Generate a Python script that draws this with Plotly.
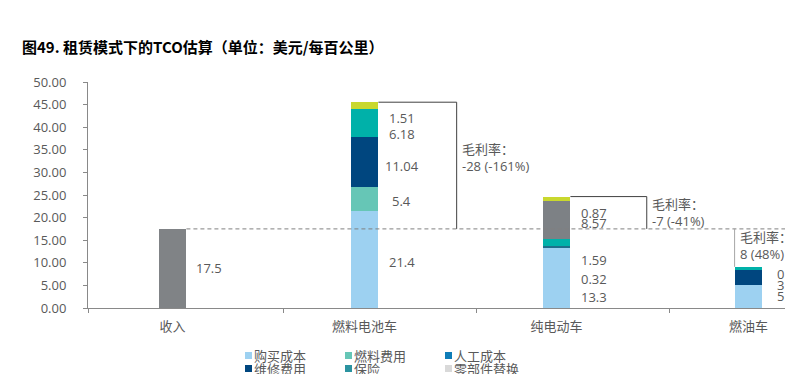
import plotly.graph_objects as go

# ---------------- data ----------------
categories = ["收入", "燃料电池车", "纯电动车", "燃油车"]
revenue   = [17.5, None, None, None]
purchase  = [None, 21.4, 13.3, 5.2]
fuel      = [None, 5.4, None, None]
labor     = [None, None, 0.32, None]
maint     = [None, 11.04, None, 3.1]
insurance = [None, 6.18, 1.59, 0.8]
battery   = [None, None, 8.57, None]
parts     = [None, 1.51, 0.87, None]
margin_labels = ["-28 (-161%)", "-7 (-41%)", "8 (48%)"]
legend_names = ["购买成本", "燃料费用", "人工成本", "维修费用", "保险", "零部件替换"]
title_text = "图49. 租赁模式下的TCO估算（单位：美元/每百公里）"

# ---------------- style ----------------
W, H = 785, 374
ML, MR, MT, MB = 88, 0, 82, 66
PW, PH = W - ML - MR, H - MT - MB
TXT = "#595959"
AX = "#898989"
FONT = "Open Sans, Noto Sans CJK SC, sans-serif"
BAR_W = 0.145
HW = BAR_W / 2
XR = [-0.44, 3.19]
series = [
    ("收入", revenue, "#808386"),
    ("购买成本", purchase, "#9DD1F1"),
    ("燃料费用", fuel, "#66C6B6"),
    ("人工成本", labor, "#1F6F8B"),
    ("维修费用", maint, "#00467F"),
    ("保险", insurance, "#00B1A9"),
    ("电池", battery, "#7D8185"),
    ("零部件替换", parts, "#C9D82E"),
]
legend_colors = ["#9DD1F1", "#66C6B6", "#0F7DB8", "#00467F", "#2B93A0", "#D9D9D9"]
# legend grid (pixels): column square-left x, row centre y
LEG_COLS = [245, 345, 445]
LEG_ROWS = [355.5, 368.5]
SQ = 7
# pixel offsets (down) of value labels, keyed by (series, category index)
label_dy = {
    ("收入", 0): 0,
    ("购买成本", 1): 2, ("燃料费用", 1): 2, ("维修费用", 1): 4, ("保险", 1): 11, ("零部件替换", 1): 12,
    ("购买成本", 2): 19, ("人工成本", 2): 32, ("保险", 2): 17, ("电池", 2): 3, ("零部件替换", 2): 14,
    ("购买成本", 3): 0, ("维修费用", 3): 8, ("保险", 3): 5,
}
bracket_x = [1.48, 2.47, 3 - HW]
bracket_dy = [-8, 0, -2]


def px_x(px):
    return (px - ML) / PW


def px_y(py):
    return (H - MB - py) / PH


xs = list(range(len(categories)))
fig = go.Figure()

for name, vals, col in series:
    fig.add_trace(go.Bar(
        x=xs, y=vals, name=name, width=BAR_W, marker=dict(color=col, line=dict(width=0)),
        showlegend=False, hoverinfo="skip"))

annotations = []
shapes = []

# value labels
cum = [0.0] * len(categories)
for name, vals, col in series:
    for i, v in enumerate(vals):
        if v is None:
            continue
        mid = cum[i] + v / 2
        cum[i] += v
        annotations.append(dict(x=i, y=mid, xref="x", yref="y", text=str(v), showarrow=False,
                                xshift=37, yshift=-label_dy.get((name, i), 0),
                                font=dict(size=13, color=TXT, family=FONT)))
totals = cum
rev = totals[0]

# dashed revenue line
shapes.append(dict(type="line", xref="x", yref="y", x0=0 + HW, x1=XR[1], y0=rev, y1=rev,
                   line=dict(color="#808080", width=1, dash="4px,3px")))
# brackets + margin text
for k, ci in enumerate([1, 2, 3]):
    t = totals[ci]
    bx = bracket_x[k]
    if t > rev:
        path = f"M {ci + HW},{t} L {bx},{t} L {bx},{rev}"
        lc = "#404040"
    else:
        path = f"M {bx},{rev} L {bx},{t}"
        lc = "#A6A6A6"
    shapes.append(dict(type="path", xref="x", yref="y", path=path, line=dict(color=lc, width=1)))
    annotations.append(dict(x=bx, y=(t + rev) / 2, xref="x", yref="y",
                            text="毛利率：<br>" + margin_labels[k], showarrow=False,
                            xanchor="left", align="left", xshift=3, yshift=-bracket_dy[k],
                            font=dict(size=13, color=TXT, family=FONT)))

# legend (drawn as swatches + text, 3 columns x 2 rows)
for i, (nm, col) in enumerate(zip(legend_names, legend_colors)):
    cx = LEG_COLS[i % 3]
    cy = LEG_ROWS[i // 3]
    shapes.append(dict(type="rect", xref="paper", yref="paper",
                       x0=px_x(cx), x1=px_x(cx + SQ), y0=px_y(cy - SQ / 2), y1=px_y(cy + SQ / 2),
                       fillcolor=col, line=dict(width=0)))
    annotations.append(dict(x=px_x(cx + SQ + 1), y=px_y(cy), xref="paper", yref="paper",
                            text=nm, showarrow=False, xanchor="left", yanchor="middle",
                            borderpad=0, font=dict(size=13, color=TXT, family=FONT)))

fig.update_layout(
    width=W, height=H,
    margin=dict(l=ML, r=MR, t=MT, b=MB, autoexpand=False),
    paper_bgcolor="white", plot_bgcolor="white",
    barmode="stack", showlegend=False,
    font=dict(family=FONT, size=13, color=TXT),
    title=dict(text=f"<b>{title_text}</b>", xref="container", yref="container",
               x=22 / W, xanchor="left", y=1 - 48 / H, yanchor="middle",
               font=dict(size=15, color="#000000", family="Noto Sans CJK SC, sans-serif")),
    xaxis=dict(range=XR, tickmode="array", tickvals=xs, ticktext=categories, ticks="",
               showline=True, linecolor=AX, linewidth=1, showgrid=False, zeroline=False,
               automargin=False, ticklabelstandoff=6,
               minor=dict(tickmode="array", tickvals=[-0.44, 0.577, 1.585, 2.59], ticks="outside",
                          ticklen=4, tickcolor=AX, showgrid=False),
               tickfont=dict(size=13, color=TXT)),
    yaxis=dict(range=[0, 50], dtick=5, tickformat=".2f", ticks="outside", ticklen=4,
               tickcolor=AX, showline=True, linecolor=AX, linewidth=1, showgrid=False,
               zeroline=False, automargin=False, ticklabelstandoff=14,
               tickfont=dict(size=13, color=TXT)),
    annotations=annotations,
    shapes=shapes,
)

fig.write_html("out.html", config={"displayModeBar": False},
               post_script="document.body.style.margin='0';document.body.style.overflow='hidden';")
